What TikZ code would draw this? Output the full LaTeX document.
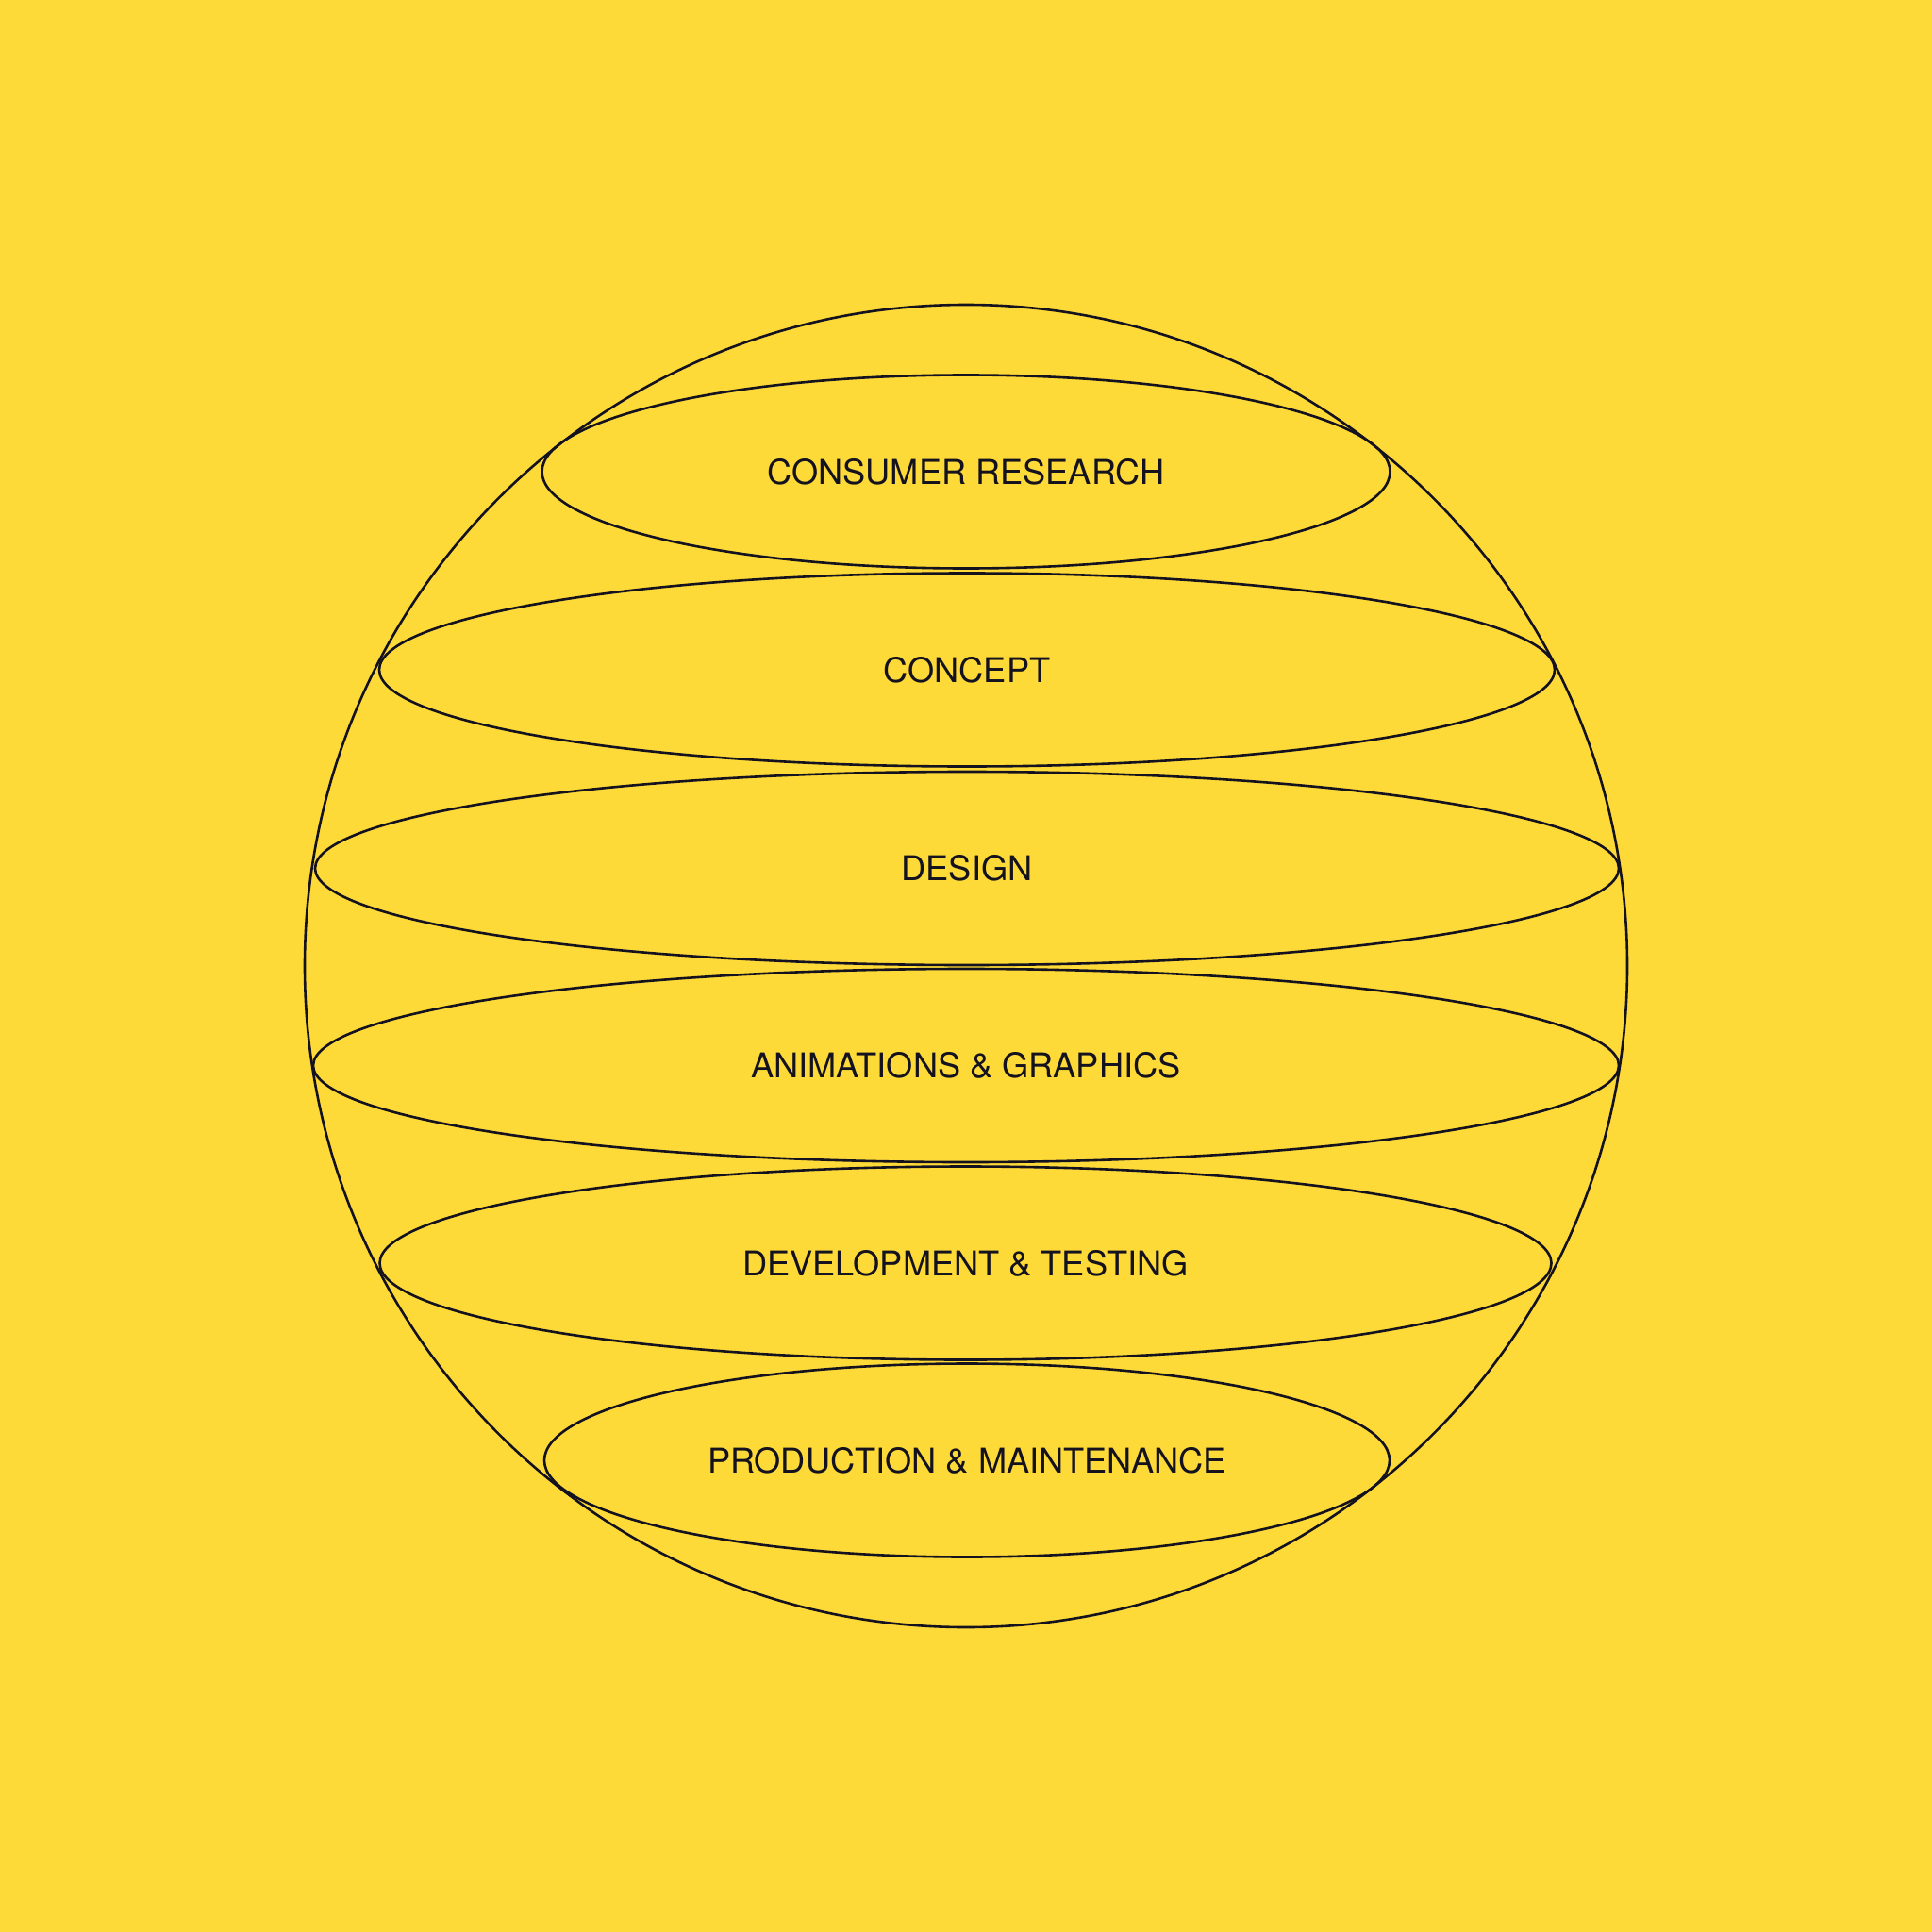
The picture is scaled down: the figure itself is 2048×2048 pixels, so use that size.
\documentclass[tikz,border=0pt]{standalone}
\usepackage{fontspec}
\setmainfont{TeX Gyre Heros}
\usetikzlibrary{shapes.geometric}
\definecolor{bgyellow}{RGB}{254,218,56}
\definecolor{ink}{RGB}{20,18,30}
\tikzset{
  layer/.style={ellipse, draw=ink, line width=1.3pt, inner sep=0pt, outer sep=0pt,
    text=ink, font=\fontsize{18.1}{20}\selectfont, text height=13pt, text depth=0pt,
    align=center, minimum height=102.5pt},
  globe/.style={circle, draw=ink, line width=1.3pt, inner sep=0pt, outer sep=0pt}
}
\begin{document}
\begin{tikzpicture}[x=0.5pt,y=-0.5pt]
\fill[bgyellow] (0,0) rectangle (2048,2048);
\useasboundingbox (0,0) rectangle (2048,2048);
\node[globe, minimum size=701pt] (sphere) at (1024,1024) {};
\node[layer, minimum width=449.5pt] (research) at (1024,500) {CONSUMER RESEARCH};
\node[layer, minimum width=623pt] (concept) at (1025,710) {CONCEPT};
\node[layer, minimum width=691pt] (design) at (1025,920.5) {DESIGN};
\node[layer, minimum width=692pt] (anim) at (1024,1129.5) {ANIMATIONS \& GRAPHICS};
\node[layer, minimum width=621pt] (dev) at (1023.5,1339) {DEVELOPMENT \& TESTING};
\node[layer, minimum width=448pt] (prod) at (1025,1548) {PRODUCTION \& MAINTENANCE};
\end{tikzpicture}
\end{document}
